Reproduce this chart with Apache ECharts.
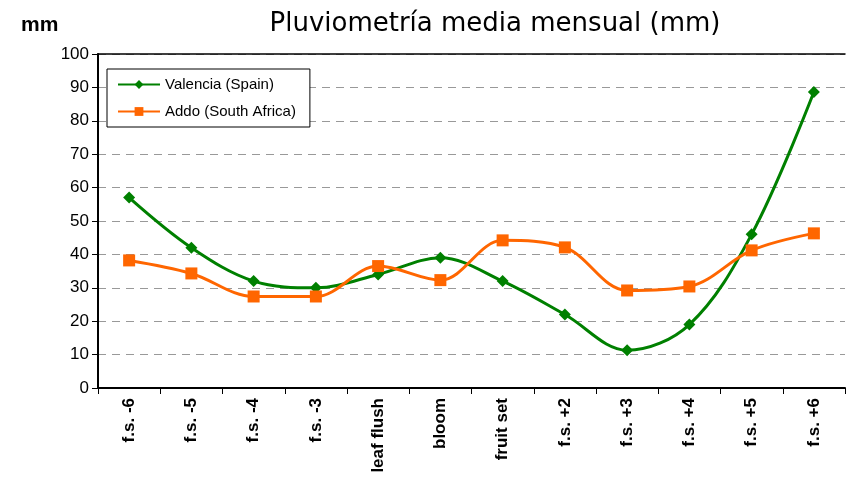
<!DOCTYPE html>
<html>
<head>
<meta charset="utf-8">
<script src="https://cdn.jsdelivr.net/npm/echarts@6/dist/echarts.min.js"></script>
<style>
html, body { margin: 0; padding: 0; background: #fff; }
#main { width: 849px; height: 483px; }
</style>
</head>
<body>
<div id="main"></div>
<script>
// categorias y datos (mm)
var categories = ['f.s. -6', 'f.s. -5', 'f.s. -4', 'f.s. -3', 'leaf flush', 'bloom', 'fruit set', 'f.s. +2', 'f.s. +3', 'f.s. +4', 'f.s. +5', 'f.s. +6'];
var valencia = [57, 42, 32, 30, 34, 39, 32, 22, 11.3, 19, 46, 88.6];
var addo = [38.2, 34.3, 27.4, 27.4, 36.5, 32.3, 44.2, 42.1, 29.2, 30.4, 41.2, 46.3];

var myChart = echarts.init(document.getElementById('main'));

var option = {
    animation: false,
    backgroundColor: '#fff',
    title: [{
        text: 'Pluviometría media mensual (mm)',
        left: 490,
        textAlign: 'center',
        top: 6,
        textStyle: { fontFamily: 'DejaVu Sans', fontWeight: 'normal', fontSize: 26, color: '#000' }
    }, {
        text: 'mm',
        left: 16,
        top: 10,
        textStyle: { fontFamily: 'Liberation Sans', fontWeight: 'bold', fontSize: 21, color: '#000' }
    }],
    legend: {
        orient: 'vertical',
        left: 107,
        top: 69,
        itemWidth: 42,
        itemHeight: 11,
        itemGap: 12,
        padding: [8, 14, 8, 10],
        borderColor: '#000',
        borderWidth: 1,
        backgroundColor: '#fff',
        textStyle: { fontFamily: 'Liberation Sans', fontSize: 15, color: '#000' },
        data: ['Valencia (Spain)', 'Addo (South Africa)']
    },
    grid: { left: 98, right: 4, top: 54, bottom: 95 },
    xAxis: [{
        type: 'category',
        data: categories,
        axisLine: { lineStyle: { color: '#000', width: 2 } },
        axisTick: { show: true, length: 6, lineStyle: { color: '#000' } },
        axisLabel: {
            rotate: 90,
            interval: 0,
            margin: 10,
            fontFamily: 'Liberation Sans',
            fontWeight: 'bold',
            fontSize: 17,
            color: '#000'
        }
    }, {
        type: 'category',
        position: 'top',
        data: categories,
        axisLine: { lineStyle: { color: '#000', width: 1.5 } },
        axisTick: { show: false },
        axisLabel: { show: false }
    }],
    yAxis: {
        type: 'value',
        min: 0,
        max: 100,
        interval: 10,
        axisLine: { show: true, lineStyle: { color: '#000', width: 2 } },
        axisTick: { show: true, length: 6, lineStyle: { color: '#000' } },
        axisLabel: { fontFamily: 'Liberation Sans', fontSize: 17, color: '#000', margin: 9 },
        splitLine: { lineStyle: { color: '#999', type: [8, 6], width: 1 } }
    },
    series: [{
        name: 'Valencia (Spain)',
        type: 'line',
        data: valencia,
        smooth: 0.35,
        symbol: 'diamond',
        symbolSize: 12,
        lineStyle: { color: '#008000', width: 3 },
        itemStyle: { color: '#008000' }
    }, {
        name: 'Addo (South Africa)',
        type: 'line',
        data: addo,
        smooth: 0.35,
        symbol: 'rect',
        symbolSize: 12,
        lineStyle: { color: '#FF6600', width: 3 },
        itemStyle: { color: '#FF6600' }
    }]
};

myChart.setOption(option);
</script>
</body>
</html>
